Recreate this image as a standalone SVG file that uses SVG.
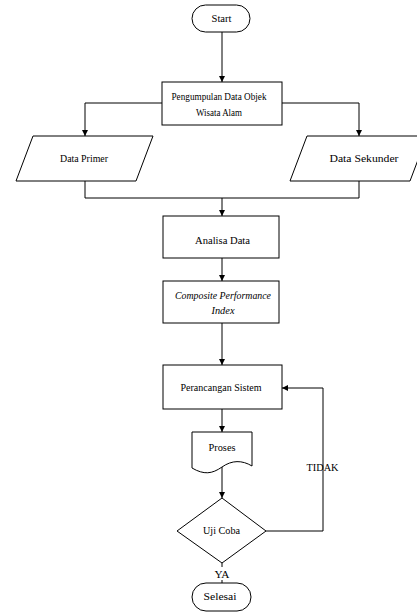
<svg xmlns="http://www.w3.org/2000/svg" width="417" height="612" viewBox="0 0 417 612">
<defs>
<marker id="ah" markerWidth="6" markerHeight="6" refX="6" refY="3" orient="auto" markerUnits="userSpaceOnUse">
<path d="M0,0 L6,3 L0,6 Z" fill="#000"/>
</marker>
<style>
.s{fill:#fff;stroke:#000;stroke-width:1}
.c{fill:none;stroke:#000;stroke-width:1}
.t{font-family:'Liberation Serif','Times New Roman',serif;font-size:10.5px;fill:#000;text-anchor:middle}
.i{font-style:italic}
</style>
</defs>
<rect width="417" height="612" fill="#fff"/>
<g id="connectors">
<path class="c" d="M222,32 V82" marker-end="url(#ah)"/>
<path class="c" d="M162,103 H85 V136" marker-end="url(#ah)"/>
<path class="c" d="M282,103 H359 V136" marker-end="url(#ah)"/>
<path class="c" d="M85,181 V198 H359 V180"/>
<path class="c" d="M222,198 V216" marker-end="url(#ah)"/>
<path class="c" d="M222,258 V281" marker-end="url(#ah)"/>
<path class="c" d="M222,323 V365" marker-end="url(#ah)"/>
<path class="c" d="M222,409 V432" marker-end="url(#ah)"/>
<path class="c" d="M222,467 V498" marker-end="url(#ah)"/>
<path class="c" d="M266,531 H323 V388 H282" marker-end="url(#ah)"/>
<path class="c" d="M222,563 V567 M222,580 V583"/>
<text class="t" x="322.5" y="471" textLength="32" lengthAdjust="spacingAndGlyphs">TIDAK</text>
<text class="t" x="222" y="578" textLength="15" lengthAdjust="spacingAndGlyphs">YA</text>
</g>
<g id="start">
<rect class="s" x="192" y="5" width="58" height="27" rx="13.5"/>
<text class="t" x="221.5" y="22" textLength="20" lengthAdjust="spacingAndGlyphs">Start</text>
</g>
<g id="pengumpulan">
<rect class="s" x="162" y="82" width="120" height="43"/>
<text class="t" x="219" y="100" textLength="95" lengthAdjust="spacingAndGlyphs">Pengumpulan Data Objek</text>
<text class="t" x="219" y="116" textLength="46" lengthAdjust="spacingAndGlyphs">Wisata Alam</text>
</g>
<g id="data-primer">
<path class="s" d="M33,136 H153 L136,181 H16 Z"/>
<text class="t" x="84" y="162" textLength="48" lengthAdjust="spacingAndGlyphs">Data Primer</text>
</g>
<g id="data-sekunder">
<path class="s" d="M307,136 H427 L410,181 H290 Z"/>
<text class="t" x="364" y="162" textLength="69" lengthAdjust="spacingAndGlyphs">Data Sekunder</text>
</g>
<g id="analisa">
<rect class="s" x="163" y="216" width="116" height="42"/>
<text class="t" x="222.5" y="244" textLength="55" lengthAdjust="spacingAndGlyphs">Analisa Data</text>
</g>
<g id="cpi">
<rect class="s" x="163" y="281" width="116" height="42"/>
<text class="t i" x="223" y="299" textLength="96" lengthAdjust="spacingAndGlyphs">Composite Performance</text>
<text class="t i" x="223" y="314" textLength="23" lengthAdjust="spacingAndGlyphs">Index</text>
</g>
<g id="perancangan">
<rect class="s" x="163" y="365" width="119" height="44"/>
<text class="t" x="221" y="391" textLength="81" lengthAdjust="spacingAndGlyphs">Perancangan Sistem</text>
</g>
<g id="proses">
<path class="s" d="M192,432 H252 V466 C242,460 232,460 222,467 C212,474 204,475 192,468 Z"/>
<text class="t" x="222" y="451" textLength="27" lengthAdjust="spacingAndGlyphs">Proses</text>
</g>
<g id="uji-coba">
<path class="s" d="M222,498 L266,531 L222,563 L177,531 Z"/>
<text class="t" x="221.5" y="534" textLength="37" lengthAdjust="spacingAndGlyphs">Uji Coba</text>
</g>
<g id="selesai">
<rect class="s" x="192" y="583" width="59" height="28" rx="14"/>
<text class="t" x="220" y="600" textLength="33" lengthAdjust="spacingAndGlyphs">Selesai</text>
</g>
</svg>
